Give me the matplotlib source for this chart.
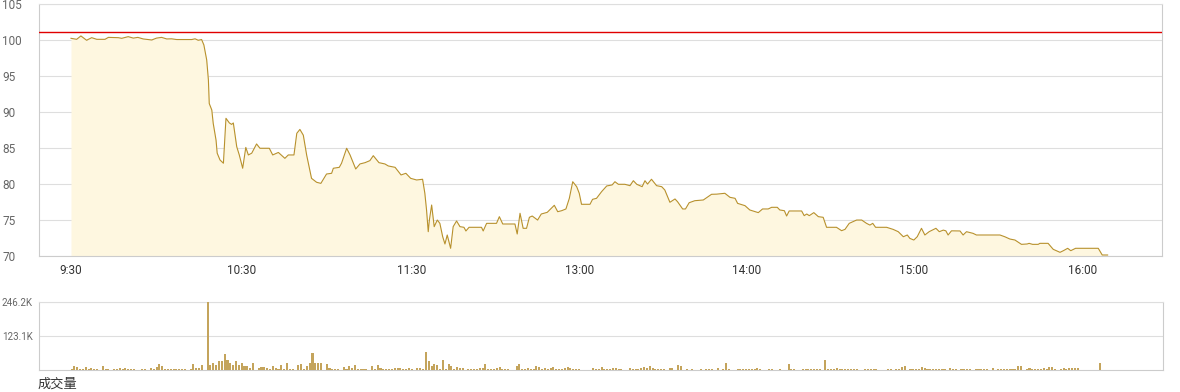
import matplotlib
matplotlib.use('Agg')
import matplotlib.pyplot as plt

# ---------------- data ----------------
# x is "minutes since 9:30" on the chart's own (compressed) axis
price_t = [0.0, 2.0, 3.5, 5.5, 7.3, 9.1, 12.0, 13.2, 16.7, 17.9,
           20.2, 22.0, 23.6, 25.5, 28.5, 30.2, 32.0, 33.8, 35.5, 37.3,
           42.6, 43.8, 44.9, 46.1, 46.9, 47.9, 48.5, 48.8, 49.7, 50.2,
           51.2, 51.6, 52.6, 53.8, 54.7, 55.9, 56.7, 57.3, 58.5, 59.4,
           60.6, 61.7, 62.6, 63.8, 65.5, 66.7, 70.0, 71.2, 73.2, 75.5,
           76.7, 78.7, 79.7, 80.8, 82.0, 83.2, 84.9, 86.7, 88.2, 90.2,
           92.0, 92.6, 94.7, 95.5, 97.3, 98.5, 100.5, 102.0, 103.8, 105.5,
           106.7, 108.7, 110.8, 112.0, 114.4, 116.5, 118.2, 119.9, 122.0, 124.1,
           124.9, 125.5, 126.1, 126.5, 127.3, 128.2, 129.3, 130.2, 131.2, 132.0,
           132.8, 134.0, 134.9, 136.1, 137.3, 138.7, 139.4, 140.5, 144.9, 145.5,
           146.7, 150.2, 151.2, 152.4, 156.7, 157.5, 158.5, 159.6, 160.8, 161.8,
           162.8, 164.7, 166.0, 168.1, 170.6, 171.8, 173.2, 174.7, 175.9, 177.1,
           178.5, 179.4, 180.2, 183.2, 184.1, 185.5, 187.3, 189.1, 191.0, 192.0,
           193.2, 195.5, 197.3, 198.5, 199.7, 201.6, 202.6, 203.5, 204.9, 206.7,
           208.5, 209.6, 211.4, 213.2, 214.1, 215.9, 216.9, 218.2, 220.2, 223.2,
           226.1, 227.9, 230.8, 232.6, 234.4, 235.3, 237.9, 239.6, 242.6, 244.1,
           246.1, 247.3, 249.3, 250.2, 251.8, 252.6, 253.5, 257.9, 258.8, 259.7,
           260.6, 262.2, 263.8, 265.5, 266.7, 270.2, 272.0, 273.2, 274.7, 277.3,
           279.1, 280.8, 282.0, 283.0, 284.0, 287.9, 290.2, 292.0, 293.8, 295.2,
           296.1, 297.5, 298.7, 300.2, 301.4, 302.9, 305.3, 306.5, 307.9, 308.8,
           309.6, 310.8, 313.8, 314.9, 316.1, 318.4, 319.6, 327.9, 329.6, 331.4,
           333.2, 335.5, 337.5, 338.2, 339.4, 341.4, 342.0, 344.9, 346.7, 349.1,
           350.3, 351.8, 352.9, 354.6, 362.6, 364.0, 365.9]

price = [100.27, 100.13, 100.6, 100.0, 100.36, 100.13, 100.13, 100.4, 100.36, 100.27,
         100.5, 100.3, 100.4, 100.18, 100.04, 100.3, 100.4, 100.18, 100.2, 100.1,
         100.1, 100.2, 100.0, 100.1, 99.35, 97.26, 94.48, 91.2, 90.3, 88.45,
         86.1, 84.3, 83.35, 82.9, 89.15, 88.5, 88.3, 88.5, 85.2, 84.05,
         82.2, 85.1, 84.05, 84.3, 85.58, 84.98, 84.98, 84.05, 84.4, 83.58,
         84.05, 84.05, 87.06, 87.6, 86.8, 84.0, 80.8, 80.25, 80.1, 81.4,
         81.5, 82.2, 82.33, 82.9, 84.98, 84.05, 82.1, 82.8, 82.98, 83.26,
         83.95, 82.98, 82.8, 82.52, 82.33, 81.27, 81.5, 80.8, 80.57, 80.67,
         78.72, 76.4, 73.38, 75.0, 77.09, 74.08, 75.0, 74.54, 72.68, 71.67,
         72.92, 71.07, 74.08, 74.87, 74.08, 73.99, 73.48, 73.99, 73.99, 73.48,
         74.54, 74.54, 75.47, 74.45, 74.45, 73.06, 75.94, 73.85, 73.85, 75.38,
         75.56, 75.0, 75.84, 76.07, 77.05, 76.16, 76.3, 76.54, 78.02, 80.33,
         79.64, 78.72, 77.19, 77.19, 77.88, 78.02, 78.95, 79.74, 79.88, 80.33,
         79.97, 79.97, 79.78, 80.47, 79.97, 79.64, 80.47, 80.0, 80.67, 79.78,
         79.64, 79.18, 77.47, 77.93, 77.55, 76.54, 76.54, 77.41, 77.69, 77.79,
         78.58, 78.6, 78.72, 78.16, 78.02, 77.32, 77.0, 76.4, 76.03, 76.54,
         76.54, 76.77, 76.77, 76.4, 76.3, 75.56, 76.26, 76.26, 75.61, 75.84,
         75.61, 76.03, 75.47, 75.38, 73.99, 73.99, 73.52, 73.7, 74.54, 75.0,
         75.0, 74.54, 74.3, 74.54, 73.99, 73.99, 73.7, 73.38, 72.68, 72.92,
         72.45, 72.22, 72.68, 73.85, 72.92, 73.38, 73.85, 73.38, 73.6, 73.5,
         72.92, 73.5, 73.48, 72.92, 73.38, 73.15, 72.92, 72.92, 72.68, 72.36,
         72.22, 71.62, 71.67, 71.76, 71.62, 71.62, 71.76, 71.76, 70.93, 70.51,
         70.74, 71.07, 70.74, 71.07, 71.07, 70.14, 70.14]

prev_close = 101.1

xtick_pos = [0, 60.1, 120.3, 179.6, 238.6, 297.5, 357.2]
xtick_labels = ['9:30', '10:30', '11:30', '13:00', '14:00', '15:00', '16:00']
ytick_vals = [70, 75, 80, 85, 90, 95, 100, 105]

vol_min = [0, 1, 2, 3, 4, 5, 6, 7, 8, 9,
           11, 12, 13, 15, 16, 17, 18, 19, 20, 21,
           22, 25, 26, 28, 29, 30, 31, 32, 33, 34,
           35, 36, 37, 38, 39, 40, 42, 43, 44, 45,
           46, 48, 49, 50, 51, 52, 53, 54, 55, 56,
           57, 58, 59, 60, 61, 62, 63, 64, 66, 67,
           68, 69, 70, 71, 72, 73, 74, 75, 76, 77,
           78, 80, 81, 82, 83, 84, 85, 86, 87, 88,
           90, 91, 92, 93, 94, 96, 97, 98, 99, 100,
           101, 102, 103, 104, 106, 107, 108, 109, 110, 111,
           112, 113, 114, 115,
           116, 117, 118, 119, 120, 122, 123, 124, 125, 126,
           127, 128, 129, 130, 131, 132, 133, 134, 135, 136,
           137, 138, 140, 141, 142, 143, 144, 145, 146, 147,
           148, 149, 150, 151, 152, 153, 154, 157, 158, 159,
           160, 161, 162, 163, 164, 165, 166, 167, 168, 169,
           170, 171, 172, 173, 174, 175, 176, 177, 178, 179,
           184, 185, 186, 187, 188, 189, 190, 191, 192, 193,
           194, 197, 198, 199, 200, 201, 202, 203, 204, 205,
           206, 207, 208, 209, 211, 212, 214, 215, 217, 219,
           222, 224, 225, 226, 228, 230, 231, 232, 235, 236,
           237, 238, 239, 240, 241, 242, 243, 246, 247,
           250, 253, 254, 255, 258, 259, 260, 261, 262, 263,
           264, 266, 267, 268, 269, 270, 271, 272, 273, 274,
           275, 276, 277, 280, 281, 282, 283, 284, 288, 289,
           291, 292, 293, 294, 296, 297, 298, 299, 300, 301,
           302, 303, 304, 305, 306, 307, 308, 310, 311, 312,
           314, 315, 316, 317, 319, 320, 321, 322, 323, 325,
           327, 328, 329, 330, 331, 332, 333, 334, 335, 337,
           338, 339, 340, 341, 342, 343, 344, 345, 346, 347,
           349, 350, 351, 352, 353, 354, 355, 363]

vol_k = [3.6, 14.5, 10, 3.6, 3.6, 10, 3.6, 7, 3.6, 3.6,
         13, 3.6, 3.6, 3.6, 3.6, 7, 3.6, 7, 3.6, 3.6,
         3.6, 3.6, 3.6, 7, 3.6, 11, 22, 14.5, 3.6, 3.6,
         3.6, 3.6, 3.6, 3.6, 3.6, 3.6, 3.6, 22, 7, 7,
         18, 246.2, 18, 25, 18, 33, 33, 58, 36, 25,
         18, 33, 18, 25, 14.5, 14.5, 7, 25, 7, 11,
         11, 7, 3.6, 14.5, 7, 3.6, 18, 3.6, 25, 3.6,
         3.6, 18, 22, 3.6, 14.5, 25, 62, 25, 25, 25,
         22, 7, 3.6, 3.6, 3.6, 11, 3.6, 14.5, 7, 18,
         3.6, 3.6, 3.6, 3.6, 14.5, 3.6, 18, 7, 3.6, 3.6,
         3.6, 3.6, 7, 7,
         7, 3.6, 3.6, 7, 3.6, 7, 7, 3.6, 65, 33,
         14.5, 22, 18, 3.6, 36, 3.6, 22, 14.5, 3.6, 11,
         7, 7, 3.6, 3.6, 3.6, 3.6, 7, 7, 22, 3.6,
         3.6, 3.6, 7, 11, 3.6, 3.6, 3.6, 14.5, 22, 3.6,
         3.6, 7, 3.6, 3.6, 14.5, 11, 3.6, 7, 3.6, 7,
         11, 3.6, 3.6, 3.6, 7, 11, 7, 3.6, 3.6, 3.6,
         7, 3.6, 3.6, 11, 3.6, 3.6, 3.6, 7, 7, 3.6,
         3.6, 7, 3.6, 3.6, 3.6, 7, 11, 7, 14.5, 7,
         3.6, 3.6, 3.6, 3.6, 7, 7, 18, 14.5, 3.6, 3.6,
         3.6, 3.6, 3.6, 3.6, 7, 3.6, 25, 3.6, 3.6, 3.6,
         3.6, 3.6, 3.6, 3.6, 3.6, 7, 3.6, 3.6, 3.6,
         3.6, 22, 3.6, 3.6, 3.6, 3.6, 3.6, 3.6, 3.6, 3.6,
         3.6, 36, 3.6, 3.6, 3.6, 7, 3.6, 3.6, 3.6, 3.6,
         3.6, 3.6, 3.6, 3.6, 3.6, 3.6, 3.6, 3.6, 3.6, 3.6,
         3.6, 3.6, 11, 14.5, 3.6, 3.6, 3.6, 3.6, 11, 7,
         3.6, 3.6, 3.6, 3.6, 3.6, 3.6, 3.6, 7, 3.6, 3.6,
         3.6, 3.6, 3.6, 3.6, 3.6, 3.6, 3.6, 3.6, 3.6, 7,
         3.6, 3.6, 3.6, 3.6, 3.6, 3.6, 3.6, 14.5, 14.5, 3.6,
         7, 3.6, 3.6, 3.6, 3.6, 7, 3.6, 11, 11, 3.6,
         3.6, 7, 3.6, 7, 7, 7, 7, 25]

vol_ticks = [123.1, 246.2]
vol_tick_labels = ['123.1K', '246.2K']
vol_label = '成交量'

# ---------------- styling ----------------
plt.rcParams['font.family'] = ['Roboto', 'DejaVu Sans']
W, H = 1180, 392
fig = plt.figure(figsize=(W / 100, H / 100), dpi=100)


def box(l, t, r, b):
    return [l / W, 1 - b / H, (r - l) / W, (b - t) / H]


GRID = '#dedede'
BORDER = '#cccccc'
XLIM = (-11.4, 385.1)

# main price panel
ax = fig.add_axes(box(38.7, 4.3, 1162, 256))
ax.set_xlim(*XLIM)
ax.set_ylim(ytick_vals[0], ytick_vals[-1])
ax.fill_between(price_t, price, ytick_vals[0], color='#fef7e0', lw=0, zorder=1)
ax.plot(price_t, price, color='#b8912c', lw=0.8, zorder=3)
ax.axhline(prev_close, color='#e00000', lw=1.0, zorder=4)
ax.set_yticks(ytick_vals)
ax.set_yticklabels([str(v) for v in ytick_vals])
ax.grid(axis='y', color=GRID, lw=0.8, zorder=0)
ax.set_axisbelow(True)
ax.set_xticks(xtick_pos)
ax.set_xticklabels(xtick_labels)
ax.tick_params(axis='y', length=0, pad=26.4, labelsize=8.5, labelcolor='#666666')
ax.tick_params(axis='x', length=0, pad=6.0, labelsize=8.5, labelcolor='#333333')
for lab in ax.get_yticklabels():
    lab.set_horizontalalignment('left')
for side in ['left', 'right', 'bottom']:
    ax.spines[side].set_color(BORDER)
    ax.spines[side].set_linewidth(0.8)
ax.spines['top'].set_color(GRID)
ax.spines['top'].set_linewidth(0.8)

# volume panel
ax2 = fig.add_axes(box(39.3, 302.3, 1163, 370))
ax2.set_xlim(*XLIM)
ax2.set_ylim(0, vol_ticks[-1])
ax2.bar(vol_min, vol_k, width=0.72, color='#c4a45c', lw=0, zorder=3)
ax2.set_yticks(vol_ticks)
ax2.set_yticklabels(vol_tick_labels)
ax2.set_xticks([])
ax2.grid(axis='y', color=GRID, lw=0.8, zorder=0)
ax2.set_axisbelow(True)
ax2.tick_params(axis='y', length=0, pad=26.9, labelsize=7, labelcolor='#666666')
for lab in ax2.get_yticklabels():
    lab.set_horizontalalignment('left')
for side in ['left', 'right', 'bottom']:
    ax2.spines[side].set_color(BORDER)
    ax2.spines[side].set_linewidth(0.8)
ax2.spines['top'].set_color(GRID)
ax2.spines['top'].set_linewidth(0.8)

fig.text(38 / W, 1 - 384 / H, vol_label, fontsize=9.5, color='#333333',
         family=['Noto Sans CJK SC', 'DejaVu Sans'], ha='left', va='center')

fig.savefig('out.png', dpi=100)
